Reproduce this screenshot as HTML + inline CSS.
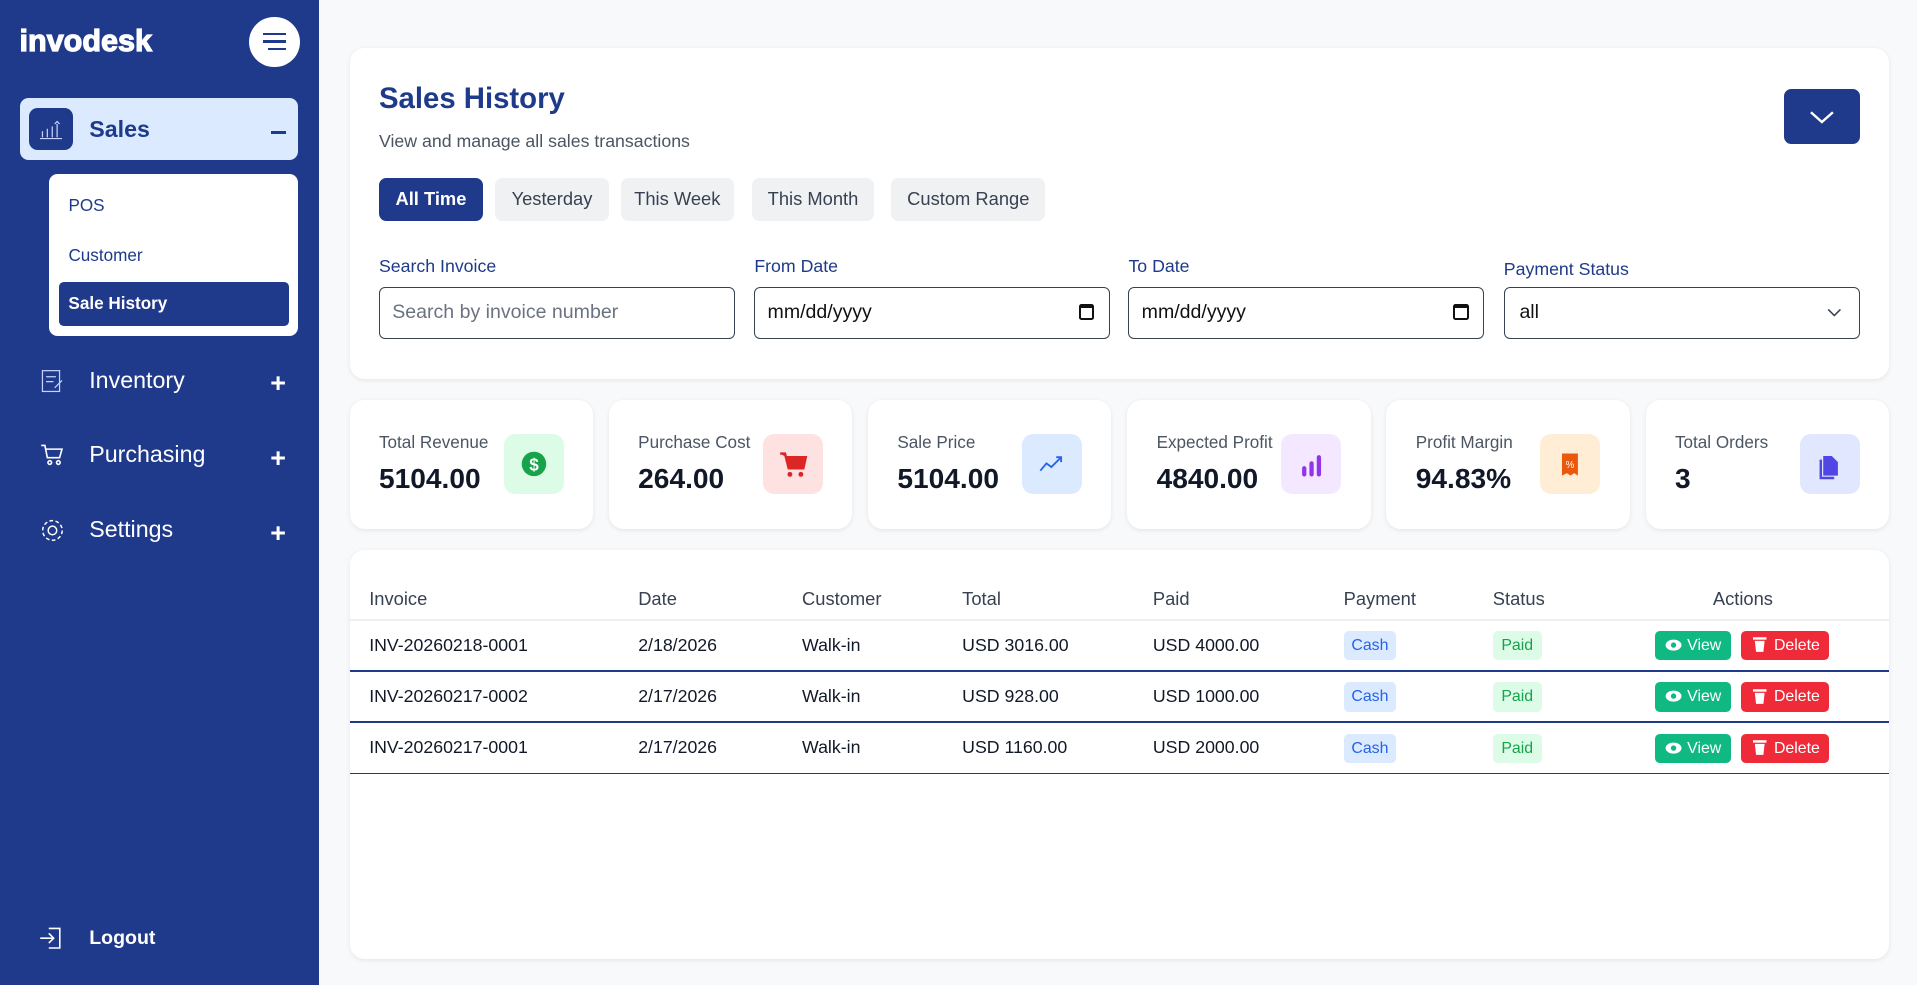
<!DOCTYPE html>
<html><head><meta charset="utf-8">
<style>
*{box-sizing:border-box;margin:0;padding:0}
html,body{width:1917px;height:985px;overflow:hidden;background:#f8f9fb;font-family:"Liberation Sans",sans-serif}
#w{position:absolute;left:0;top:0;width:1568px;height:806px;zoom:1.2226}
.a{position:absolute}
.sb{left:0;top:0;width:261px;height:806px;background:#1f3a8a}
.nav{color:#fff;font-size:19px}
.plus{color:#fff;font-size:22px;font-weight:bold}
.card{background:#fff;border-radius:12px;box-shadow:0 1px 4px rgba(0,0,0,.08)}
.pill{top:146px;height:35px;border-radius:6px;background:#f0f1f3;color:#374151;font-size:15px;line-height:35px;text-align:center}
.lbl{font-size:14.5px;color:#1e3a8a;font-weight:500}
.inp{top:235px;height:42px;width:291px;border:1px solid #374151;border-radius:5px;font-size:16px;line-height:40px;padding-left:10px;color:#111}
.sl{top:27px;left:24px;font-size:14px;color:#4b5563}
.sv{top:52px;left:24px;font-size:23px;font-weight:bold;color:#111827}
.ic{left:126px;top:28px;width:49px;height:49px;border-radius:9px}
.th{top:31px;font-size:15px;color:#374151}
.td{font-size:14.5px;color:#111827}
.tag{width:43px;height:24px;border-radius:4px;font-size:13px;line-height:24px;text-align:center}
.btn{height:24px;border-radius:4px;color:#fff;font-size:13px;line-height:24px}
</style></head><body>
<div id="w">
<div class="a sb">
  <div class="a" style="left:16px;top:20px;font-size:25px;font-weight:bold;color:#fff;-webkit-text-stroke:1px #fff">invodesk</div>
  <div class="a" style="left:204px;top:14px;width:41px;height:41px;border-radius:50%;background:#fff">
    <div class="a" style="left:11px;top:13px;width:19px;height:2px;background:#1f3a8a"></div>
    <div class="a" style="left:11px;top:19px;width:19px;height:2px;background:#1f3a8a"></div>
    <div class="a" style="left:15px;top:25px;width:15px;height:2px;background:#1f3a8a"></div>
  </div>
  <div class="a" style="left:16px;top:80px;width:228px;height:51px;background:#dbeafe;border-radius:7px">
    <div class="a" style="left:8px;top:8px;width:36px;height:35px;background:#1f3a8a;border-radius:7px">
      <svg width="36" height="35"><g stroke="#c7d2fe" fill="none" stroke-width="1"><path d="M9 25h18M11 24v-5M15 24v-7M19 24v-9M23 24v-11M21 13l2-2 2 2"/></g></svg>
    </div>
    <div class="a" style="left:57px;top:15px;font-size:19px;font-weight:bold;color:#1e3a8a">Sales</div>
    <div class="a" style="left:206px;top:27px;width:12px;height:3px;background:#1e3a8a"></div>
  </div>
  <div class="a" style="left:40px;top:142px;width:204px;height:133px;background:#fff;border-radius:7px">
    <div class="a" style="left:16px;top:18px;font-size:14px;color:#1e3a8a">POS</div>
    <div class="a" style="left:16px;top:59px;font-size:14px;color:#1e3a8a">Customer</div>
    <div class="a" style="left:8px;top:89px;width:188px;height:36px;background:#1f3a8a;border-radius:4px;color:#fff;font-size:14px;font-weight:bold;line-height:36px;padding-left:8px">Sale History</div>
  </div>
  <div class="a nav" style="left:33px;top:300px">
    <svg width="20" height="22"><g stroke="#c7d2fe" fill="none"><rect x="2" y="3" width="14" height="17"/><path d="M5 8h8M5 12h6M12 17l6-6"/></g></svg></div>
  <div class="a nav" style="left:73px;top:300px">Inventory</div>
  <div class="a plus" style="left:221px;top:301px">+</div>
  <div class="a" style="left:33px;top:362px">
    <svg width="20" height="20"><g stroke="#fff" fill="none" stroke-width="1.3"><path d="M1 2h3l2 10h10l2-7H5"/><circle cx="8" cy="16" r="1.5"/><circle cx="15" cy="16" r="1.5"/></g></svg></div>
  <div class="a nav" style="left:73px;top:361px">Purchasing</div>
  <div class="a plus" style="left:221px;top:362px">+</div>
  <div class="a" style="left:32px;top:423px">
    <svg width="22" height="22"><g stroke="#fff" fill="none" stroke-width="1.2"><circle cx="11" cy="11" r="3.5"/><circle cx="11" cy="11" r="8" stroke-dasharray="3 2"/></g></svg></div>
  <div class="a nav" style="left:73px;top:422px">Settings</div>
  <div class="a plus" style="left:221px;top:424px">+</div>
  <div class="a" style="left:32px;top:757px">
    <svg width="20" height="20"><g stroke="#fff" fill="none" stroke-width="1.3"><path d="M8 2h9v16H8M1 10h11M8 6l4 4-4 4"/></g></svg></div>
  <div class="a" style="left:73px;top:758px;font-size:16px;font-weight:bold;color:#fff">Logout</div>
</div>

<div class="a card" style="left:286px;top:39px;width:1259px;height:271px">
  <div class="a" style="left:24px;top:28px;font-size:24px;font-weight:bold;color:#1e3a8a">Sales History</div>
  <div class="a" style="left:24px;top:68px;font-size:14.5px;color:#4b5563">View and manage all sales transactions</div>
  <div class="a" style="left:1173px;top:34px;width:62px;height:45px;background:#1f3a8a;border-radius:6px">
    <svg width="62" height="45"><path d="M22 19l9 8 9-8" stroke="#fff" stroke-width="2" fill="none"/></svg></div>
  <div class="a pill" style="left:24px;width:85px;top:107px;background:#1f3a8a;color:#fff;font-weight:bold">All Time</div>
  <div class="a pill" style="left:119px;width:93px;top:107px">Yesterday</div>
  <div class="a pill" style="left:222px;width:92px;top:107px">This Week</div>
  <div class="a pill" style="left:329px;width:100px;top:107px">This Month</div>
  <div class="a pill" style="left:443px;width:126px;top:107px">Custom Range</div>
  <div class="a lbl" style="left:24px;top:170px">Search Invoice</div>
  <div class="a lbl" style="left:331px;top:170px">From Date</div>
  <div class="a lbl" style="left:637px;top:170px">To Date</div>
  <div class="a lbl" style="left:944px;top:173px">Payment Status</div>
  <div class="a inp" style="left:24px;top:196px;color:#6b7280">Search by invoice number</div>
  <div class="a inp" style="left:331px;top:196px">mm/dd/yyyy<span class="a" style="right:12px;top:13px;width:13px;height:13px;border:2px solid #111;border-top-width:4px;border-radius:2px"></span></div>
  <div class="a inp" style="left:637px;top:196px">mm/dd/yyyy<span class="a" style="right:12px;top:13px;width:13px;height:13px;border:2px solid #111;border-top-width:4px;border-radius:2px"></span></div>
  <div class="a inp" style="left:944px;top:196px;padding-left:12px">all<svg class="a" style="right:14px;top:15px" width="12" height="10"><path d="M1 2l5 5 5-5" stroke="#374151" fill="none" stroke-width="1.3"/></svg></div>
</div>

<div class="a card" style="left:286px;top:327px;width:199px;height:106px">
  <div class="a sl">Total Revenue</div><div class="a sv">5104.00</div>
  <div class="a ic" style="background:#dcfce7"><svg width="49" height="49"><circle cx="24.5" cy="24.5" r="10" fill="#16a34a"/><text x="24.5" y="30" text-anchor="middle" font-size="14" font-weight="bold" fill="#fff" font-family="Liberation Sans">$</text></svg></div>
</div>
<div class="a card" style="left:498px;top:327px;width:199px;height:106px">
  <div class="a sl">Purchase Cost</div><div class="a sv">264.00</div>
  <div class="a ic" style="background:#fee2e2"><svg width="49" height="49"><path d="M14 16h4l3 12h12l2-9H19" fill="#dc2626" stroke="#dc2626" stroke-width="2"/><circle cx="22" cy="33" r="2" fill="#dc2626"/><circle cx="31" cy="33" r="2" fill="#dc2626"/></svg></div>
</div>
<div class="a card" style="left:710px;top:327px;width:199px;height:106px">
  <div class="a sl">Sale Price</div><div class="a sv">5104.00</div>
  <div class="a ic" style="background:#dbeafe"><svg width="49" height="49"><path d="M15 30l5-6 4 3 8-8M28 19h4v4" stroke="#2563eb" stroke-width="1.5" fill="none"/></svg></div>
</div>
<div class="a card" style="left:922px;top:327px;width:199px;height:106px">
  <div class="a sl">Expected Profit</div><div class="a sv">4840.00</div>
  <div class="a ic" style="background:#f3e8ff"><svg width="49" height="49"><g stroke="#9333ea" stroke-width="3.5" stroke-linecap="round"><path d="M19 33v-5M25 33v-9M31 33v-14"/></g></svg></div>
</div>
<div class="a card" style="left:1134px;top:327px;width:199px;height:106px">
  <div class="a sl">Profit Margin</div><div class="a sv">94.83%</div>
  <div class="a ic" style="background:#ffedd5"><svg width="49" height="49"><path d="M18 16h13v18l-3-2-3 2-3-2-4 2z" fill="#ea580c"/><text x="24.5" y="28" text-anchor="middle" font-size="8" fill="#fff" font-family="Liberation Sans">%</text></svg></div>
</div>
<div class="a card" style="left:1346px;top:327px;width:199px;height:106px">
  <div class="a sl">Total Orders</div><div class="a sv">3</div>
  <div class="a ic" style="background:#e0e7ff"><svg width="49" height="49"><path d="M19 18h7l5 5v11H19z" fill="#4f46e5"/><path d="M17 21v15h11" stroke="#4f46e5" stroke-width="2" fill="none"/></svg></div>
</div>

<div class="a card" style="left:286px;top:450px;width:1259px;height:334px">
  <div class="a th" style="left:16px">Invoice</div>
  <div class="a th" style="left:236px">Date</div>
  <div class="a th" style="left:370px">Customer</div>
  <div class="a th" style="left:501px">Total</div>
  <div class="a th" style="left:657px">Paid</div>
  <div class="a th" style="left:813px">Payment</div>
  <div class="a th" style="left:935px">Status</div>
  <div class="a th" style="left:1115px">Actions</div>
  <div class="a" style="left:0;top:56px;width:1259px;height:2px;background:#eef0f3"></div>
  <div id="rows"></div>
</div>
<script>
const invoices=["INV-20260218-0001","INV-20260217-0002","INV-20260217-0001"];
const dates=["2/18/2026","2/17/2026","2/17/2026"];
const customers=["Walk-in","Walk-in","Walk-in"];
const totals=["USD 3016.00","USD 928.00","USD 1160.00"];
const paid=["USD 4000.00","USD 1000.00","USD 2000.00"];
const payments=["Cash","Cash","Cash"];
const statuses=["Paid","Paid","Paid"];
const rows=document.getElementById('rows');
function cell(html,left,top,cls){const d=document.createElement('div');d.className='a '+cls;d.style.left=left+'px';d.style.top=top+'px';d.innerHTML=html;rows.appendChild(d);return d;}
invoices.forEach((inv,i)=>{
  const y=69+i*42;
  let c;
  c=cell(inv,16,y,'td');
  
  
  c=cell(dates[i],236,y,'td');
  
  
  c=cell(customers[i],370,y,'td');
  
  
  c=cell(totals[i],501,y,'td');
  
  
  c=cell(paid[i],657,y,'td');
  
  
  c=cell(payments[i],813,y-3,'tag');
  c.style.background='#dbeafe';c.style.color='#2563eb';
  
  
  c=cell(statuses[i],935,y-3,'tag');
  c.style.background='#dcfce7';c.style.color='#16a34a';c.style.width='40px';
  
  
  c=cell('<svg width="14" height="10" style="margin:0 4px 0 8px;vertical-align:-1px"><ellipse cx="7" cy="5" rx="6.5" ry="4.5" fill="#fff"/><circle cx="7" cy="5" r="2.2" fill="#10b981"/></svg>View',1068,y-3,'btn');
  c.style.background='#10b981';c.style.width='62px';
  
  
  c=cell('<svg width="11" height="13" style="margin:0 6px 0 10px;vertical-align:-2px"><rect x="0" y="1" width="11" height="2" fill="#fff"/><path d="M1.5 4h8l-1 9h-6z" fill="#fff"/></svg>Delete',1138,y-3,'btn');
  c.style.background='#ef2b3a';c.style.width='72px';
  
  
  c=cell('',0,y+29,'');
  c.style.width='1259px';c.style.height='1.5px';c.style.background='#1e3a8a';
  
  
});
</script>
</div>
</body></html>
